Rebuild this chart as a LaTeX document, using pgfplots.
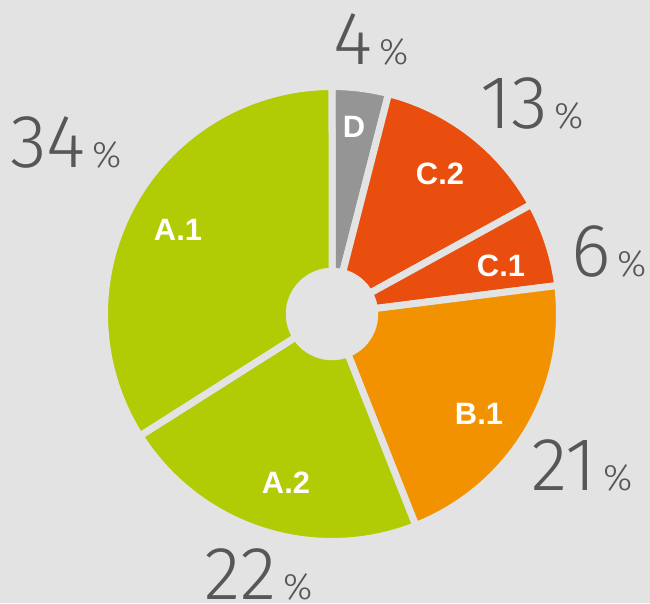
\documentclass[border=0pt]{standalone}
\usepackage{pgfplots}
\pgfplotsset{compat=1.18}
\usepackage{fontspec}
\setmainfont{Liberation Sans}
\newfontfamily\lightfont{Fira Sans Light}
\definecolor{bg}{HTML}{E3E3E3}
\definecolor{cA}{HTML}{B1CB05}
\definecolor{cB}{HTML}{F39200}
\definecolor{cC}{HTML}{E94E0E}
\definecolor{cD}{HTML}{949594}
\definecolor{txt}{HTML}{575757}
\newcommand\pct[1]{{\lightfont\fontsize{75.5}{75.5}\selectfont #1}\hspace{7bp}{\lightfont\fontsize{37}{37}\selectfont\%}}
\newcommand\lab[1]{{\bfseries\fontsize{31}{31}\selectfont #1}}
\begin{document}
\begin{tikzpicture}
\begin{axis}[
  width=650bp, height=603bp, scale only axis,
  xmin=-332, xmax=318, ymin=-289, ymax=314,
  axis line style={draw=none}, ticks=none,
  axis background/.style={fill=bg},
  clip=false,
  slice/.style={draw=bg, line width=7bp, line join=round, mark=none, samples=60, variable=\t, smooth},
]
% percentages, cumulative clockwise from 12 o'clock:
% D 4 | C.2 13 | C.1 6 | B.1 21 | A.2 22 | A.1 34
\addplot[slice, fill=cD, domain=0:4]   ({227.5*cos(90-3.6*\t)},{227.5*sin(90-3.6*\t)}) -- (0,0) -- cycle;
\addplot[slice, fill=cC, domain=4:17]  ({227.5*cos(90-3.6*\t)},{227.5*sin(90-3.6*\t)}) -- (0,0) -- cycle;
\addplot[slice, fill=cC, domain=17:23] ({227.5*cos(90-3.6*\t)},{227.5*sin(90-3.6*\t)}) -- (0,0) -- cycle;
\addplot[slice, fill=cB, domain=23:44] ({227.5*cos(90-3.6*\t)},{227.5*sin(90-3.6*\t)}) -- (0,0) -- cycle;
\addplot[slice, fill=cA, domain=44:66] ({227.5*cos(90-3.6*\t)},{227.5*sin(90-3.6*\t)}) -- (0,0) -- cycle;
\addplot[slice, fill=cA, domain=66:100]({227.5*cos(90-3.6*\t)},{227.5*sin(90-3.6*\t)}) -- (0,0) -- cycle;
% hole
\addplot[only marks, mark=*, mark size=46bp, color=bg] coordinates {(0,0)};
% inner labels
\node[text=white, inner sep=0] at (22,187) {\lab{D}};
\node[text=white, inner sep=0] at (108,140) {\lab{C.2}};
\node[text=white, inner sep=0] at (169,48) {\lab{C.1}};
\node[text=white, inner sep=0] at (147,-100) {\lab{B.1}};
\node[text=white, inner sep=0] at (-46,-169) {\lab{A.2}};
\node[text=white, inner sep=0] at (-154,84) {\lab{A.1}};
% percentages
\node[text=txt, anchor=base west, inner sep=0] at (1,249) {\pct{4}};
\node[text=txt, anchor=base west, inner sep=0] at (148,185) {\pct{13}};
\node[text=txt, anchor=base west, inner sep=0] at (239,37) {\pct{6}};
\node[text=txt, anchor=base west, inner sep=0] at (199,-176) {\pct{21}};
\node[text=txt, anchor=base west, inner sep=0] at (-128,-285) {\pct{22}};
\node[text=txt, anchor=base west, inner sep=0] at (-322,146) {\pct{34}};
\end{axis}
\pgfresetboundingbox
\useasboundingbox (current axis.south west) rectangle (current axis.north east);
\end{tikzpicture}
\end{document}
